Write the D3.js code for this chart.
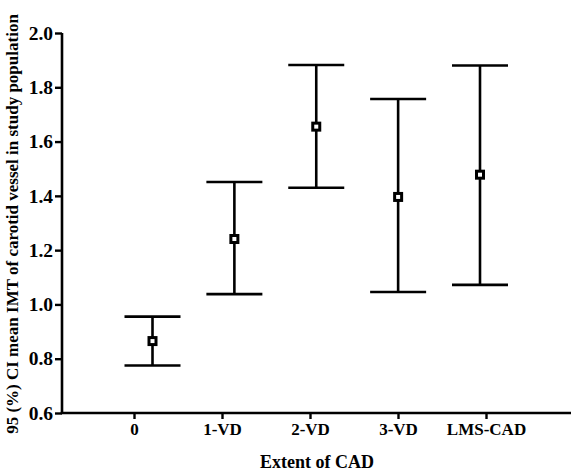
<!DOCTYPE html>
<html>
<head>
<meta charset="utf-8">
<script src="https://cdn.jsdelivr.net/npm/d3@7"></script>
<style>
  body { margin: 0; background: #fff; }
  svg text { font-family: "Liberation Serif", "Times New Roman", serif; font-weight: bold; fill: #000; }
</style>
</head>
<body>
<svg id="chart" width="571" height="475"></svg>
<script>
const categories = ['0', '1-VD', '2-VD', '3-VD', 'LMS-CAD'];
const means = [0.865, 1.241, 1.655, 1.396, 1.478];
const lower = [0.775, 1.038, 1.430, 1.046, 1.072];
const upper = [0.955, 1.451, 1.882, 1.757, 1.880];
const yTicks = [0.6, 0.8, 1.0, 1.2, 1.4, 1.6, 1.8, 2.0];

const svg = d3.select('#chart');
const plotLeft = 62, plotRight = 571, plotTop = 33, plotBottom = 413;

const y = d3.scaleLinear().domain([0.6, 2.0]).range([plotBottom, plotTop]);
// tick positions and mark positions are not aligned in the original figure
const xTick = d3.scalePoint().domain(categories).range([134, 486]);
const xMark = d3.scalePoint().domain(categories).range([152.5, 480]);

// Y axis
const yAxis = svg.append('g')
  .attr('transform', `translate(${plotLeft},0)`)
  .call(d3.axisLeft(y).tickValues(yTicks).tickFormat(d3.format('.1f')).tickSize(7).tickSizeOuter(0));
yAxis.select('.domain').attr('stroke-width', 2.6).attr('d', `M0,${plotTop}V${plotBottom}`);
yAxis.selectAll('.tick line').attr('stroke-width', 2.4);
yAxis.selectAll('.tick text')
  .attr('x', -9)
  .attr('font-size', 19.5)
  .attr('font-family', '"Liberation Serif", serif')
  .attr('font-weight', 'bold');

// X axis line spans whole width
const xAxis = svg.append('g')
  .attr('transform', `translate(0,${plotBottom})`)
  .call(d3.axisBottom(xTick).tickSize(6).tickSizeOuter(0));
xAxis.select('.domain').attr('stroke-width', 2.6).attr('d', `M${plotLeft - 1.3},0H${plotRight}`);
xAxis.selectAll('.tick line').attr('stroke-width', 2.4);
xAxis.selectAll('.tick text')
  .attr('y', 10)
  .attr('font-size', 17)
  .attr('font-family', '"Liberation Serif", serif')
  .attr('font-weight', 'bold');

// Error bars
const capHalf = 28;
const g = svg.append('g').attr('stroke', '#000').attr('stroke-width', 2.6).attr('fill', 'none');
categories.forEach((c, i) => {
  const cx = xMark(c);
  g.append('line').attr('x1', cx).attr('x2', cx).attr('y1', y(upper[i])).attr('y2', y(lower[i]));
  g.append('line').attr('x1', cx - capHalf).attr('x2', cx + capHalf).attr('y1', y(upper[i])).attr('y2', y(upper[i]));
  g.append('line').attr('x1', cx - capHalf).attr('x2', cx + capHalf).attr('y1', y(lower[i])).attr('y2', y(lower[i]));
  g.append('rect')
    .attr('x', cx - 3.5).attr('y', y(means[i]) - 3.5)
    .attr('width', 7).attr('height', 7)
    .attr('fill', '#fff').attr('stroke-width', 3);
});

// Axis titles
svg.append('text')
  .attr('x', 317)
  .attr('y', 468)
  .attr('text-anchor', 'middle')
  .attr('font-size', 18)
  .text('Extent of CAD');

svg.append('text')
  .attr('transform', `translate(18,224) rotate(-90)`)
  .attr('text-anchor', 'middle')
  .attr('font-size', 17)
  .text('95 (%) CI mean IMT of carotid vessel in study population');
</script>
</body>
</html>
